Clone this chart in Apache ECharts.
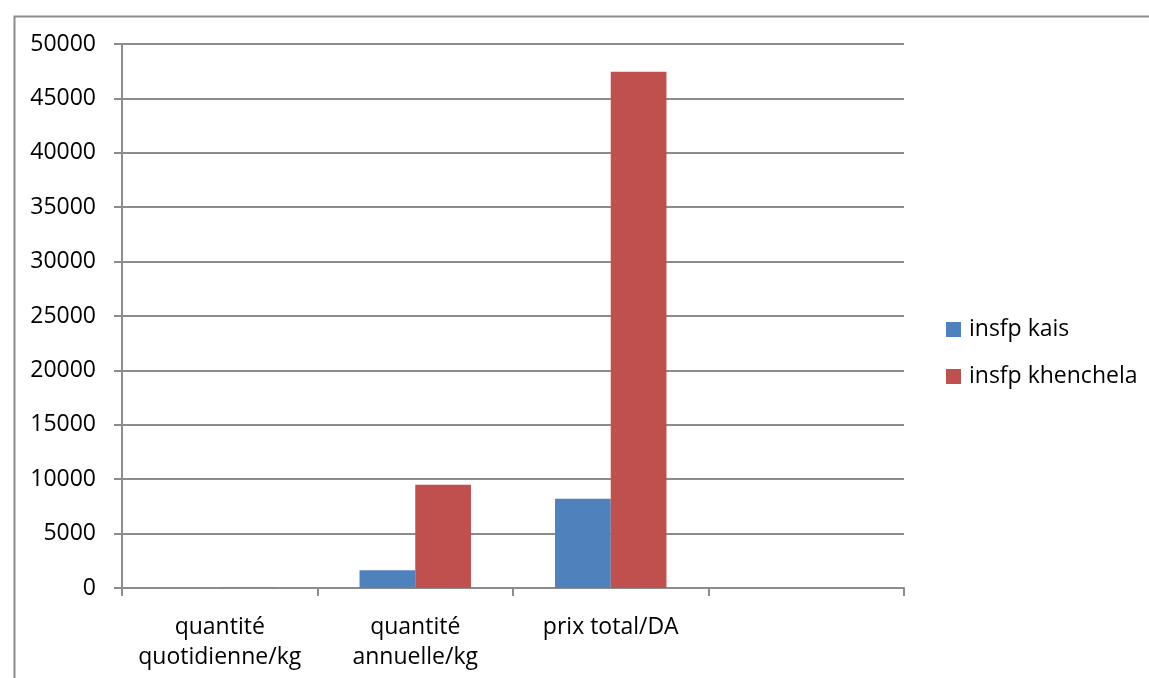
<!DOCTYPE html>
<html>
<head>
<meta charset="utf-8">
<script src="https://cdn.jsdelivr.net/npm/echarts@6/dist/echarts.min.js"></script>
<style>
  html, body { margin: 0; padding: 0; background: #fff; }
  #chart { width: 1149px; height: 678px; }
</style>
</head>
<body>
<div id="chart"></div>
<script>
// Categories (the fourth slot is an empty category)
const categories = ['quantité\nquotidienne/kg', 'quantité\nannuelle/kg', 'prix total/DA', ''];
const seriesNames = ['insfp kais', 'insfp khenchela'];
const kaisValues = [4.5, 1642, 8212, null];
const khenchelaValues = [26, 9490, 47450, null];
const yTicks = { min: 0, max: 50000, interval: 5000 };

const FONT = '"Open Sans"';
const FONT_SIZE = 23;
const GRID_COLOR = '#8c8c8c';

const chart = echarts.init(document.getElementById('chart'), null, { renderer: 'canvas' });

chart.setOption({
  animation: false,
  backgroundColor: '#ffffff',
  textStyle: { fontFamily: FONT },
  graphic: [{
    type: 'rect',
    left: 12, top: 14,
    shape: { width: 1200, height: 700 },
    style: { fill: 'none', stroke: '#8c8c8c', lineWidth: 2 },
    silent: true
  }],
  grid: { left: 122, right: 245, top: 44, bottom: 90 },
  legend: {
    orient: 'vertical',
    left: 946, top: 316,
    padding: 0,
    itemWidth: 15, itemHeight: 15,
    itemGap: 20,
    icon: 'rect',
    data: seriesNames,
    textStyle: { fontFamily: FONT, fontSize: FONT_SIZE, color: '#000', lineHeight: 27, padding: [0, 0, 0, 3] }
  },
  xAxis: {
    type: 'category',
    data: categories,
    boundaryGap: true,
    axisLine: { show: true, lineStyle: { color: GRID_COLOR, width: 2 } },
    axisTick: { show: true, length: 8, alignWithLabel: false, lineStyle: { color: GRID_COLOR, width: 2 } },
    axisLabel: { interval: 0, margin: 24, fontFamily: FONT, fontSize: FONT_SIZE, color: '#000', lineHeight: 30 }
  },
  yAxis: {
    type: 'value',
    min: yTicks.min, max: yTicks.max, interval: yTicks.interval,
    axisLine: { show: true, lineStyle: { color: GRID_COLOR, width: 2 } },
    axisTick: { show: true, length: 8, lineStyle: { color: GRID_COLOR, width: 2 } },
    splitLine: { show: true, lineStyle: { color: GRID_COLOR, width: 2 } },
    axisLabel: {
      margin: 26, fontFamily: FONT, fontSize: FONT_SIZE, color: '#000',
      padding: [4, 0, 0, 0],
      formatter: v => String(v)
    }
  },
  series: [
    {
      name: seriesNames[0], type: 'bar', data: kaisValues,
      barGap: '0%', barCategoryGap: '43%',
      itemStyle: { color: '#4F81BD' }
    },
    {
      name: seriesNames[1], type: 'bar', data: khenchelaValues,
      barGap: '0%', barCategoryGap: '43%',
      itemStyle: { color: '#C0504D' }
    }
  ]
});
</script>
</body>
</html>
